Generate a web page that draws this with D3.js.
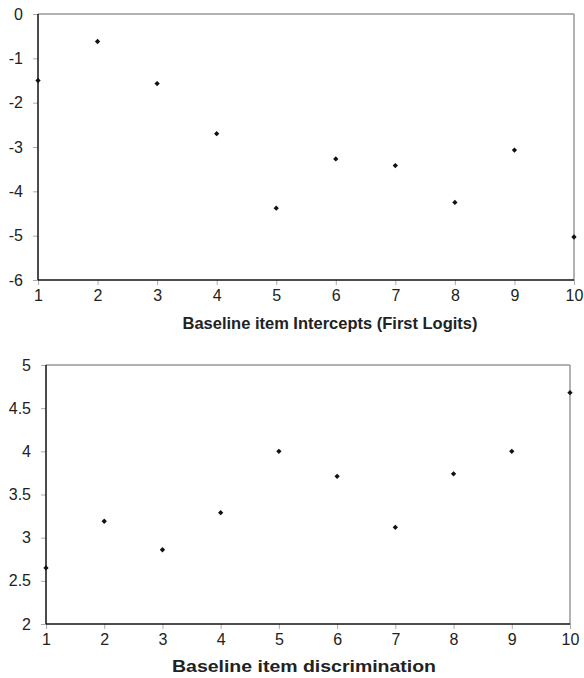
<!DOCTYPE html>
<html>
<head>
<meta charset="utf-8">
<script src="https://cdn.jsdelivr.net/npm/d3@7"></script>
<style>
  body { margin: 0; background: #fff; }
  svg { display: block; font-family: Arial, "Liberation Sans", sans-serif; }
</style>
</head>
<body>
<svg id="chart" width="584" height="678"></svg>
<script>
// Item numbers shared by both panels
const items = [1, 2, 3, 4, 5, 6, 7, 8, 9, 10]

// Top panel: baseline item intercepts (first logits)
const intercepts = [-1.50, -0.62, -1.57, -2.70, -4.38, -3.27, -3.42, -4.25, -3.07, -5.03]
const interceptTicks = [0, -1, -2, -3, -4, -5, -6]

// Bottom panel: baseline item discrimination
const discrimination = [2.65, 3.19, 2.86, 3.29, 4.00, 3.71, 3.12, 3.74, 4.00, 4.68]
const discriminationTicks = [2, 2.5, 3, 3.5, 4, 4.5, 5]

const svg = d3.select("#chart")

function panel(opts) {
  const { left, right, top, bottom, yDomain, yTicks, values, title, titleX, titleY, titleLen } = opts

  const x = d3.scaleLinear().domain([1, 10]).range([left, right])
  const y = d3.scaleLinear().domain(yDomain).range([bottom, top])

  const g = svg.append("g")

  // y ticks + labels (plain hyphen for negatives, like the original)
  const yAxis = g.append("g")
    .attr("transform", `translate(${left},0)`)
    .call(d3.axisLeft(y).tickValues(yTicks).tickSize(5).tickPadding(10).tickFormat(d => String(d)))
  yAxis.select(".domain").remove()
  yAxis.selectAll(".tick line").attr("stroke", "#aaa")
  yAxis.selectAll(".tick text").attr("fill", "#222").style("font-size", "16px")

  // x ticks + labels
  const xAxis = g.append("g")
    .attr("transform", `translate(0,${bottom})`)
    .call(d3.axisBottom(x).tickValues(items).tickSize(5).tickPadding(5).tickFormat(d => String(d)))
  xAxis.select(".domain").remove()
  xAxis.selectAll(".tick line").attr("stroke", "#aaa")
  xAxis.selectAll(".tick text").attr("fill", "#222").style("font-size", "16px")

  // plot frame: grey top/right, black left/bottom
  g.append("line").attr("x1", left).attr("x2", right).attr("y1", top).attr("y2", top)
    .attr("stroke", "#999").attr("stroke-width", 1.5)
  g.append("line").attr("x1", right).attr("x2", right).attr("y1", top).attr("y2", bottom)
    .attr("stroke", "#999").attr("stroke-width", 1.5)
  g.append("line").attr("x1", left).attr("x2", right).attr("y1", bottom).attr("y2", bottom)
    .attr("stroke", "#111").attr("stroke-width", 1.5)
  g.append("line").attr("x1", left).attr("x2", left).attr("y1", top).attr("y2", bottom)
    .attr("stroke", "#111").attr("stroke-width", 1.5)

  // diamond markers
  const diamond = d3.symbol().type(d3.symbolSquare).size(14)
  g.selectAll(".pt")
    .data(values)
    .join("path")
    .attr("class", "pt")
    .attr("d", diamond)
    .attr("transform", (d, i) => `translate(${x(items[i])},${y(d)}) rotate(45)`)
    .attr("fill", "#111")

  g.append("text")
    .attr("x", titleX).attr("y", titleY)
    .attr("text-anchor", "middle")
    .attr("fill", "#222")
    .attr("textLength", titleLen)
    .attr("lengthAdjust", "spacingAndGlyphs")
    .style("font-size", "17px").style("font-weight", "bold")
    .text(title)
}

panel({
  left: 38, right: 574, top: 14, bottom: 280,
  yDomain: [-6, 0], yTicks: interceptTicks, values: intercepts,
  title: "Baseline item Intercepts (First Logits)", titleX: 330, titleY: 329, titleLen: 295
})

panel({
  left: 46, right: 570, top: 365, bottom: 624,
  yDomain: [2, 5], yTicks: discriminationTicks, values: discrimination,
  title: "Baseline item discrimination", titleX: 304, titleY: 672, titleLen: 264
})
</script>
</body>
</html>
